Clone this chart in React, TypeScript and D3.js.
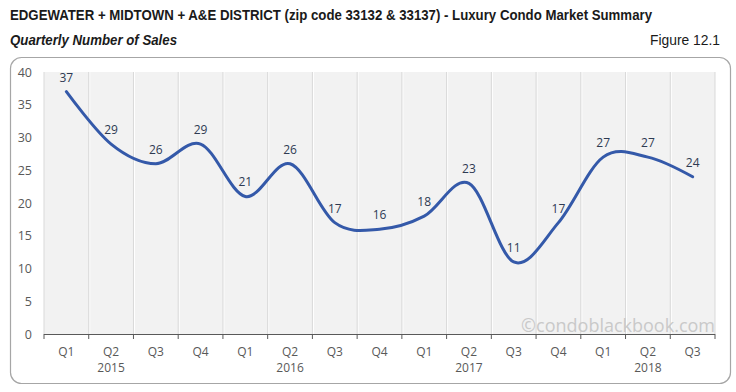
import React from "react";
import * as d3 from "d3";

const quarters = ["Q1","Q2","Q3","Q4","Q1","Q2","Q3","Q4","Q1","Q2","Q3","Q4","Q1","Q2","Q3"];
const years = ["2015","2015","2015","2015","2016","2016","2016","2016","2017","2017","2017","2017","2018","2018","2018"];
const yearLabels = ["2015","2016","2017","2018"];
const sales = [37, 29, 26, 29, 21, 26, 17, 16, 18, 23, 11, 17, 27, 27, 24];
const yTicks = [0, 5, 10, 15, 20, 25, 30, 35, 40];

const W = 736, H = 392;
const left = 44, right = 715, top = 72, bottom = 334;

export default function App() {
  const idx = d3.range(sales.length);
  const band = d3.scaleBand<number>().domain(idx).range([left, right]).paddingInner(0).paddingOuter(0);
  const y = d3.scaleLinear().domain([0, 40]).range([bottom, top]);
  const cx = (i: number) => (band(i) as number) + band.bandwidth() / 2;
  const line = d3.line<number>().x((d, i) => cx(i)).y(d => y(d)).curve(d3.curveCardinal.tension(0));
  const path = line(sales) || "";
  const axisFont = "'Open Sans', 'DejaVu Sans', sans-serif";
  const narrow = "'Liberation Sans Narrow', 'Arial Narrow', 'Liberation Sans', Arial, sans-serif";
  const boundaries = d3.range(sales.length + 1).map(i => left + i * band.bandwidth());
  const yearCenters = yearLabels.map(yr => {
    const first = years.indexOf(yr);
    return cx(first + 1);
  });
  return (
    <svg width={W} height={H} style={{ position: "absolute", left: 0, top: 0 }}>
      <rect x={0} y={0} width={W} height={H} fill="#ffffff" />
      <text x={10} y={20} fontFamily={narrow} fontWeight="bold" fontSize={14} fill="#1a1a1a"
        textLength={642} lengthAdjust="spacingAndGlyphs" transform="translate(10,20) scale(1,1.07) translate(-10,-20)">
        EDGEWATER + MIDTOWN + A&amp;E DISTRICT (zip code 33132 &amp; 33137) - Luxury Condo Market Summary
      </text>
      <text x={10} y={45} fontFamily={narrow} fontWeight="bold" fontStyle="italic" fontSize={14.5} fill="#1a1a1a"
        textLength={167} lengthAdjust="spacingAndGlyphs">
        Quarterly Number of Sales
      </text>
      <text x={650} y={45} fontFamily={narrow} fontSize={15} fill="#1a1a1a"
        textLength={70} lengthAdjust="spacingAndGlyphs">
        Figure 12.1
      </text>
      <rect x={10.5} y={57.5} width={720} height={326} rx={11} ry={11} fill="#ffffff" stroke="#a6a6a6" strokeWidth={1.2} />
      <rect x={left} y={top} width={right - left} height={bottom - top} fill="#f2f2f2" />
      {boundaries.slice(1, -1).map((bx, i) => (
        <g key={i}>
          <line x1={bx + 1} x2={bx + 1} y1={top} y2={bottom} stroke="#ffffff" strokeWidth={1} />
          <line x1={bx} x2={bx} y1={top} y2={bottom} stroke="#d9d9d9" strokeWidth={1} />
        </g>
      ))}
      <line x1={right} x2={right} y1={top} y2={bottom} stroke="#d9d9d9" strokeWidth={1} />
      <line x1={left} x2={left} y1={top} y2={bottom} stroke="#d9d9d9" strokeWidth={1} />
      <text x={715} y={332} fontFamily={axisFont} fontSize={18} fill="#c9c9c9" textAnchor="end">
        ©condoblackbook.com
      </text>
      <line x1={left} x2={right} y1={bottom + 0.5} y2={bottom + 0.5} stroke="#595959" strokeWidth={1} />
      {boundaries.map((bx, i) => (
        <line key={i} x1={bx} x2={bx} y1={bottom} y2={bottom + 5} stroke="#595959" strokeWidth={1} />
      ))}
      {yTicks.map(t => (
        <text key={t} x={32} y={y(t) + 4.5} fontFamily={axisFont} fontSize={12.5} fill="#595959" textAnchor="end">
          {t}
        </text>
      ))}
      {quarters.map((q, i) => (
        <text key={i} x={cx(i)} y={356} fontFamily={axisFont} fontSize={12} fill="#595959" textAnchor="middle">
          {q}
        </text>
      ))}
      {yearLabels.map((yr, i) => (
        <text key={yr} x={yearCenters[i]} y={372} fontFamily={axisFont} fontSize={12} fill="#595959" textAnchor="middle">
          {yr}
        </text>
      ))}
      <path d={path} fill="none" stroke="#3459a9" strokeWidth={3} strokeLinecap="round" />
      {sales.map((v, i) => (
        <text key={i} x={cx(i)} y={y(v) - 10} fontFamily={axisFont} fontSize={12} fill="#2e3a52" textAnchor="middle">
          {v}
        </text>
      ))}
    </svg>
  );
}
